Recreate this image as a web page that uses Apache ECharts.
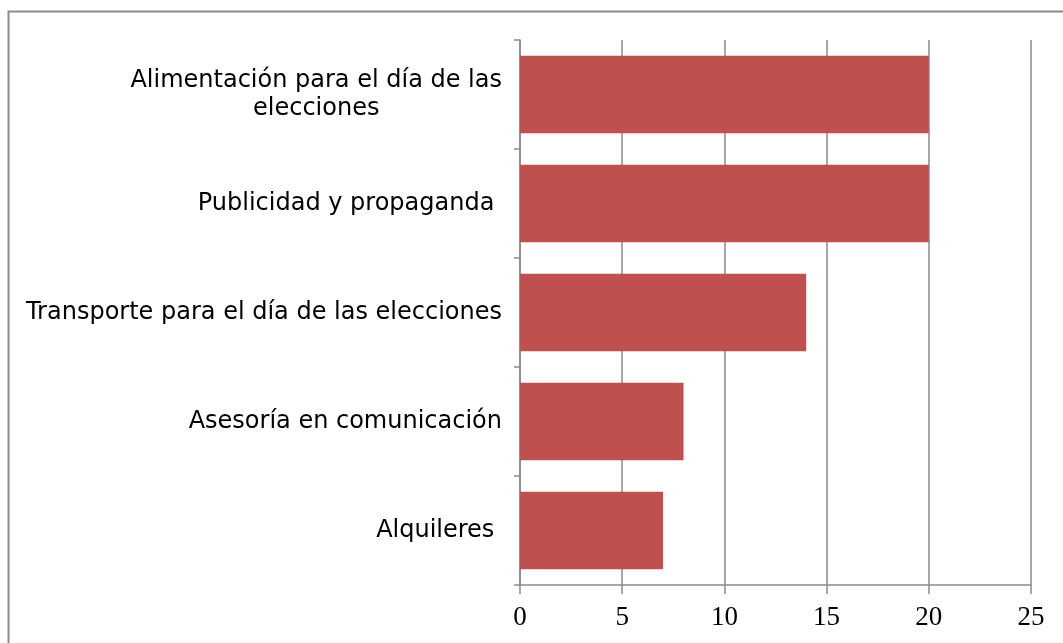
<!DOCTYPE html>
<html>
<head>
<meta charset="utf-8">
<script src="https://cdn.jsdelivr.net/npm/echarts@6/dist/echarts.min.js"></script>
<style>html,body{margin:0;padding:0;background:#fff;}#c{width:1063px;height:643px;}</style>
</head>
<body>
<div id="c"></div>
<script>
// Categories listed bottom to top (category axis starts at bottom)
var categories = ['Alquileres ', 'Asesoría en comunicación', 'Transporte para el día de las elecciones', 'Publicidad y propaganda ', 'Alimentación para el día de las\nelecciones'];
var values = [7, 8, 14, 20, 20];
var xTicks = [0, 5, 10, 15, 20, 25];

var chart = echarts.init(document.getElementById('c'), null, {renderer: 'canvas'});
chart.setOption({
  animation: false,
  backgroundColor: '#fff',
  graphic: [{
    type: 'rect',
    left: 6, top: 9,
    shape: {width: 1100, height: 700},
    style: {fill: 'none', stroke: '#8a8a8a', lineWidth: 2},
    silent: true
  }],
  grid: {left: 520, right: 32, top: 40, bottom: 58, containLabel: false},
  xAxis: {
    type: 'value',
    min: xTicks[0], max: xTicks[xTicks.length - 1], interval: 5,
    axisLine: {show: true, lineStyle: {color: '#8a8a8a', width: 1.5}},
    axisTick: {show: true, length: 9, lineStyle: {color: '#8a8a8a', width: 1.5}},
    splitLine: {show: true, lineStyle: {color: '#8a8a8a', width: 1.5}},
    axisLabel: {color: '#000', fontFamily: 'Liberation Serif', fontSize: 27, margin: 19}
  },
  yAxis: {
    type: 'category',
    data: categories,
    axisLine: {show: true, lineStyle: {color: '#8a8a8a', width: 1.5}},
    axisTick: {show: true, length: 6, lineStyle: {color: '#8a8a8a', width: 1.5}},
    axisLabel: {
      color: '#000', fontFamily: 'DejaVu Sans', fontSize: 24, margin: 18, lineHeight: 28,
      formatter: function (v) {
        return v.split('\n').map(function (s) { return '{c|' + s + '}'; }).join('\n');
      },
      rich: {c: {align: 'center', fontFamily: 'DejaVu Sans', fontSize: 24, color: '#000', lineHeight: 28}}
    }
  },
  series: [{
    type: 'bar',
    data: values,
    barCategoryGap: '29%',
    itemStyle: {color: '#C0504D'}
  }]
});
</script>
</body>
</html>
